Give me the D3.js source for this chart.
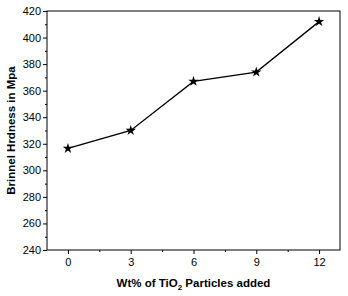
<!DOCTYPE html>
<html>
<head>
<meta charset="utf-8">
<script src="https://cdn.jsdelivr.net/npm/d3@7"></script>
<style>
  body { margin: 0; background: #fff; }
  svg { display: block; font-family: "Liberation Sans", Arial, sans-serif; }
  .axis path, .axis line { stroke: #000; stroke-width: 1; }
  .axis text { font-size: 11px; fill: #000; }
  .title { font-size: 11.5px; font-weight: bold; fill: #000; }
</style>
</head>
<body>
<div id="chart"></div>
<script>
// Brinell hardness vs. TiO2 content
const wtPct    = [0, 3, 6, 9, 12];
const hardness = [316.5, 330, 367, 374, 412];
const xTicks   = [0, 3, 6, 9, 12];
const yTicks   = [240, 260, 280, 300, 320, 340, 360, 380, 400, 420];

const W = 348, H = 296;
const M = {left: 47, top: 11, right: 8, bottom: 46};
const innerW = W - M.left - M.right;
const innerH = H - M.top - M.bottom;

const svg = d3.select("#chart").append("svg").attr("width", W).attr("height", H);
const g = svg.append("g").attr("transform", `translate(${M.left},${M.top})`);

const x = d3.scaleLinear().domain([-1, 13]).range([0, innerW]);
const y = d3.scaleLinear().domain([240, 420]).range([innerH, 0]);

// frame
g.append("rect").attr("width", innerW).attr("height", innerH)
    .attr("fill", "none").attr("stroke", "#000").attr("stroke-width", 1);

// minor ticks
g.append("g").attr("class", "axis").attr("transform", `translate(0,${innerH})`)
    .call(d3.axisBottom(x).tickValues(d3.range(-1.5, 13, 3).filter(v => v > -1)).tickSize(2).tickFormat(""))
    .call(s => s.select(".domain").remove());
g.append("g").attr("class", "axis")
    .call(d3.axisLeft(y).tickValues(d3.range(250, 420, 20)).tickSize(2).tickFormat(""))
    .call(s => s.select(".domain").remove());

// major ticks
g.append("g").attr("class", "axis").attr("transform", `translate(0,${innerH})`)
    .call(d3.axisBottom(x).tickValues(xTicks).tickSize(4).tickPadding(4))
    .call(s => s.select(".domain").remove());
g.append("g").attr("class", "axis")
    .call(d3.axisLeft(y).tickValues(yTicks).tickSize(4).tickPadding(2))
    .call(s => s.select(".domain").remove());

// line + star markers
const pts = wtPct.map((v, i) => [v, hardness[i]]);
g.append("path").datum(pts)
    .attr("fill", "none").attr("stroke", "#000").attr("stroke-width", 1.3)
    .attr("d", d3.line().x(d => x(d[0])).y(d => y(d[1])));
g.selectAll(".pt").data(pts).join("path").attr("class", "pt")
    .attr("transform", d => `translate(${x(d[0])},${y(d[1])})`)
    .attr("d", d3.symbol(d3.symbolStar, 34)())
    .attr("fill", "#000");

// axis titles
const xt = svg.append("text").attr("class", "title").attr("text-anchor", "middle")
    .attr("x", M.left + x(6)).attr("y", 287);
xt.append("tspan").text("Wt% of TiO");
xt.append("tspan").text("2").attr("font-size", "8px").attr("dy", 3);
xt.append("tspan").text(" Particles added").attr("dy", -3);

svg.append("text").attr("class", "title").attr("text-anchor", "middle")
    .attr("transform", `translate(15,${M.top + innerH / 2}) rotate(-90)`)
    .text("Brinnel Hrdness in Mpa");
</script>
</body>
</html>
